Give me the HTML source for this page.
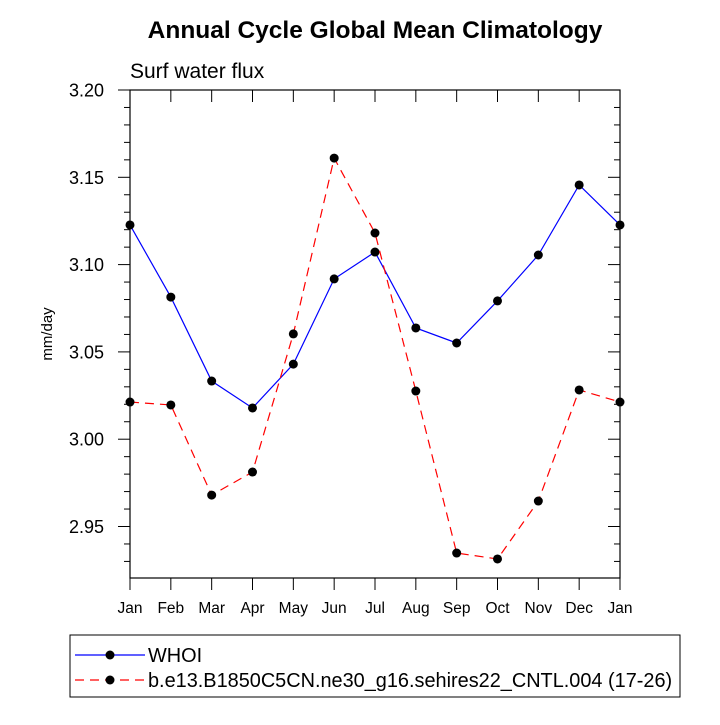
<!DOCTYPE html>
<html><head><meta charset="utf-8"><style>body{margin:0;background:#fff}svg text{font-family:"Liberation Sans",Arial,sans-serif}</style></head>
<body>
<svg width="720" height="720" xmlns="http://www.w3.org/2000/svg">
<text x="375" y="38" font-size="24.5" font-weight="bold" text-anchor="middle">Annual Cycle Global Mean Climatology</text>
<text x="130" y="78" font-size="21">Surf water flux</text>
<text transform="translate(52,334) rotate(-90)" font-size="15" text-anchor="middle">mm/day</text>
<g id="axes"></g>
<g id="series"></g>
<rect x="70" y="635" width="610" height="62" fill="none" stroke="#000" stroke-width="1"/>
<g>
<line x1="75" y1="655" x2="145" y2="655" stroke="#0000ff" stroke-width="1.2"/><circle cx="110" cy="655" r="4.5"/>
<text x="148" y="662" font-size="19.9">WHOI</text></g>
<g>
<line x1="75" y1="680" x2="145" y2="680" stroke="#ff0000" stroke-width="1.2" stroke-dasharray="9,6"/><circle cx="110" cy="680" r="4.5"/>
<text x="148" y="687" font-size="19.9">b.e13.B1850C5CN.ne30_g16.sehires22_CNTL.004 (17-26)</text></g>
</svg>
<script>
const months=["Jan","Feb","Mar","Apr","May","Jun","Jul","Aug","Sep","Oct","Nov","Dec","Jan"];
const whoi=[3.1227,3.0814,3.0333,3.0179,3.043,3.0918,3.1072,3.0637,3.0551,3.0792,3.1055,3.1456,3.1227];
const model=[3.0213,3.0196,2.968,2.9812,3.0603,3.161,3.1181,3.0276,2.9348,2.9314,2.9646,3.0282,3.0213];
const yTicks=["2.95","3.00","3.05","3.10","3.15","3.20"];
const L=130,R=620,T=90,B=578,ymax=3.20,ymin=3.20-(B-T)/87.3*0.05;
const xs=i=>L+i*(R-L)/12, ys=v=>T+(ymax-v)/(ymax-ymin)*(B-T);
const NS="http://www.w3.org/2000/svg";
function mk(t,a,p){const e=document.createElementNS(NS,t);for(const k in a)e.setAttribute(k,a[k]);p.appendChild(e);return e;}
const ax=document.getElementById('axes');
const frame=mk('rect',{x:L,y:T,width:R-L,height:B-T,fill:'none',stroke:'#000','stroke-width':1.2},ax);


months.forEach((m,i)=>{const x=xs(i);
mk('line',{x1:x,y1:B,x2:x,y2:B+12,stroke:'#000'},ax);
mk('line',{x1:x,y1:T,x2:x,y2:T+12,stroke:'#000'},ax);
const t=mk('text',{x:x,y:B+35,'font-size':15.5,'text-anchor':'middle'},ax);t.textContent=m;

});
for(let k=0;k<=30;k++){const v=Math.round((2.92+k*0.01)*100)/100;if(v<ymin-1e-6||v>ymax+1e-6)continue;const y=ys(v);
const major=Math.abs(v*20-Math.round(v*20))<1e-6;const len=major?12:6;
mk('line',{x1:L-len,y1:y,x2:L,y2:y,stroke:'#000'},ax);
mk('line',{x1:R-len,y1:y,x2:R,y2:y,stroke:'#000'},ax);}
yTicks.forEach(s=>{const t=mk('text',{x:104,y:ys(+s)+6.5,'font-size':18,'text-anchor':'end'},ax);t.textContent=s;

});
const sg=document.getElementById('series');
function draw(vals,color,dash,name){const g=mk('g',{},sg);


mk('polyline',{points:vals.map((v,i)=>xs(i)+','+ys(v)).join(' '),fill:'none',stroke:color,'stroke-width':1.2,'stroke-dasharray':dash},g);
vals.forEach((v,i)=>{const c=mk('circle',{cx:xs(i),cy:ys(v),r:4.5,fill:'#000'},g);

});}
draw(whoi,'#0000ff','none','series-whoi');
draw(model,'#ff0000','9,6','series-model');
</script>
</body></html>
